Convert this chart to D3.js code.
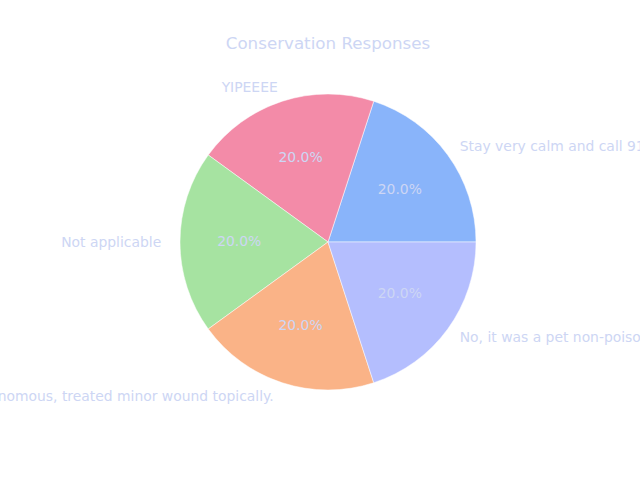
<!DOCTYPE html>
<html><head><meta charset="utf-8">
<script src="https://cdn.jsdelivr.net/npm/d3@7"></script>
<style>body{margin:0;background:#fff}svg{display:block}</style>
</head><body>
<svg id="c" width="640" height="480"></svg>
<script>
const categories = ["Stay very calm and call 911", "YIPEEEE", "Not applicable", "Non-venomous, treated minor wound topically.", "No, it was a pet non-poisonous snake."];
const values = [20, 20, 20, 20, 20];
const colors = ["#89b4fa", "#f38ba8", "#a6e3a1", "#fab387", "#b4befe"];
const title = "Conservation Responses";

const svg = d3.select("#c");
const cx = 328, cy = 242, r = 148;
const textColor = "#cdd6f4";
const font = "DejaVu Sans, sans-serif";

svg.append("text").attr("x", 328).attr("y", 43)
  .attr("text-anchor", "middle").attr("dominant-baseline", "central")
  .attr("font-family", font).attr("font-size", 16.7).attr("fill", textColor).text(title);

const pie = d3.pie().sort(null).value(d => d).startAngle(Math.PI / 2).endAngle(Math.PI / 2 - 2 * Math.PI);
const arcs = pie(values);
const arc = d3.arc().innerRadius(0).outerRadius(r);
const labelArc = d3.arc().innerRadius(r * 1.1).outerRadius(r * 1.1);
const pctArc = d3.arc().innerRadius(r * 0.6).outerRadius(r * 0.6);
const total = d3.sum(values);

const g = svg.append("g").attr("transform", `translate(${cx},${cy})`);
g.selectAll("path").data(arcs).join("path")
  .attr("d", arc).attr("fill", (d, i) => colors[i])
  .attr("stroke", "#ffffff").attr("stroke-width", 0.5);

g.selectAll("text.lbl").data(arcs).join("text").attr("class", "lbl")
  .attr("x", (d, i) => { const x = labelArc.centroid(d)[0]; return (i === 2 || i === 3) ? x - 4 : x; })
  .attr("y", d => labelArc.centroid(d)[1] - 0.5)
  .attr("text-anchor", d => labelArc.centroid(d)[0] >= 0 ? "start" : "end")
  .attr("dominant-baseline", "central")
  .attr("font-family", font).attr("font-size", 13.9).attr("fill", textColor)
  .text((d, i) => categories[i]);

g.selectAll("text.pct").data(arcs).join("text").attr("class", "pct")
  .attr("x", d => pctArc.centroid(d)[0]).attr("y", d => pctArc.centroid(d)[1] - 1)
  .attr("text-anchor", "middle").attr("dominant-baseline", "central")
  .attr("font-family", font).attr("font-size", 13.9).attr("fill", textColor)
  .text(d => (d.value / total * 100).toFixed(1) + "%");
</script>
</body></html>
